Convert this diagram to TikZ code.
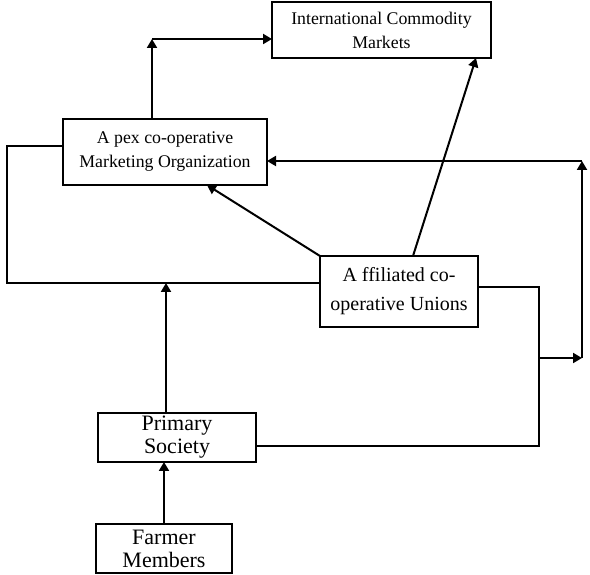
\documentclass[tikz,border=0pt]{standalone}
\usepackage{fontspec}
\setmainfont{Liberation Serif}
\usepackage{tikz}
\usetikzlibrary{positioning, arrows.meta}

\begin{document}
\begin{tikzpicture}[
      x=1pt, y=1pt,
      box/.style={draw, line width=1pt, align=center, inner sep=0pt, outer sep=0pt},
      mktbox/.style={box, font=\fontsize{8.9}{12}\selectfont},
      unionbox/.style={box, font=\fontsize{10}{14.5}\selectfont},
      basebox/.style={box, font=\fontsize{11}{11.5}\selectfont},
      arr/.style={line width=1pt, -{Triangle[length=4.5pt, width=5pt]}},
      link/.style={line width=0.9pt}
    ]
    \useasboundingbox (0,0) rectangle (295,287);

    \node[basebox, minimum width=68pt, minimum height=24.5pt] (farm) at (82,12.75) {Farmer\\Members};
    \node[basebox, minimum width=79pt, minimum height=24.5pt, above=31pt of farm, xshift=6.5pt] (prim) {Primary\\Society};
    \node[unionbox, minimum width=79pt, minimum height=35.5pt, above=43pt of prim, xshift=111pt] (aff) {A ffiliated co-\\operative Unions};
    \node[mktbox, minimum width=102pt, minimum height=33pt, above=35.5pt of aff, xshift=-117pt] (apex) {A pex co-operative\\Marketing Organization};
    \node[mktbox, minimum width=109.5pt, minimum height=28pt, above=30.5pt of apex, xshift=108.25pt] (intl) {International Commodity\\Markets};

    % apex up to the markets
    \coordinate (intlin) at ([yshift=-4.5pt]intl.west);
    \coordinate (apexup) at ([xshift=-6.5pt]apex.north);
    \draw[arr] (apexup) -- (apexup |- intlin);
    \draw[arr] (apexup |- intlin) -- (intlin);

    % left loop
    \coordinate (apexout) at ([yshift=3pt]apex.west);
    \coordinate (affin) at ([yshift=4.25pt]aff.west);
    \coordinate (edge) at (3.5,0);
    \draw[link] (apexout) -- (apexout -| edge) -- (affin -| edge) -- (affin);
    \coordinate (primup) at ([xshift=-5.5pt]prim.north);
    \draw[arr] (primup) -- (primup |- affin);
    \draw[arr] (farm) -- (farm |- prim.south);

    \draw[arr] (aff.north west) -- ([xshift=21pt]apex.south);
    \draw[arr] ([xshift=7pt]aff.north) -- ([xshift=47.25pt]intl.south);

    % right loop
    \coordinate (affout) at ([yshift=2.25pt]aff.east);
    \coordinate (primout) at ([yshift=-4.25pt]prim.east);
    \coordinate (rail) at (269.5,108);
    \coordinate (far) at (291,108);
    \coordinate (apexin) at ([yshift=-4.5pt]apex.east);
    \draw[link] (affout) -- (affout -| rail) -- (primout -| rail) -- (primout);
    \draw[arr] (rail) -- (far);
    \draw[arr] (far) -- (far |- apexin);
    \draw[arr] (far |- apexin) -- (apexin);
  \end{tikzpicture}
\end{document}
